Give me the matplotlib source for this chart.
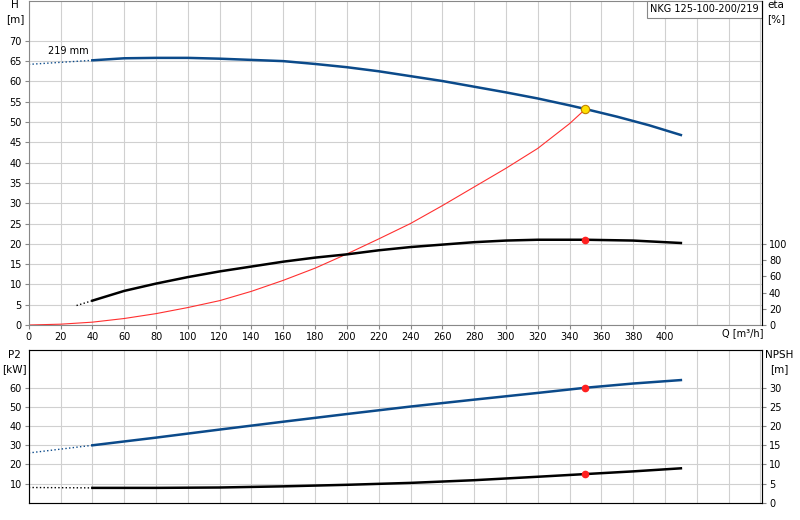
import matplotlib
matplotlib.use("Agg")
import matplotlib.pyplot as plt
import numpy as np

plt.rcParams['font.family'] = ['DejaVu Sans']
plt.rcParams['font.size'] = 7

# Data
h_q_dot = [0, 20, 40]
h_dot = [64.2, 64.7, 65.2]
h_q = [40, 60, 80, 100, 120, 140, 160, 180, 200, 220, 240, 260, 280, 300, 320, 340, 350, 370, 390, 410]
h_val = [65.2, 65.7, 65.8, 65.8, 65.6, 65.3, 65.0, 64.3, 63.5, 62.5, 61.3, 60.1, 58.7, 57.3, 55.8, 54.1, 53.2, 51.3, 49.2, 46.8]
sys_q = [0, 20, 40, 60, 80, 100, 120, 140, 160, 180, 200, 220, 240, 260, 280, 300, 320, 340, 350]
sys_h = [0, 0.2, 0.7, 1.6, 2.8, 4.3, 6.0, 8.3, 11.0, 14.0, 17.5, 21.2, 25.0, 29.4, 34.0, 38.6, 43.5, 49.6, 53.2]
eta_q_dot = [30, 40]
eta_dot = [24, 30]
eta_q = [40, 60, 80, 100, 120, 140, 160, 180, 200, 220, 240, 260, 280, 300, 320, 350, 380, 410]
eta_val = [30, 42, 51, 59, 66, 72, 78, 83, 87, 92, 96, 99, 102, 104, 105, 105, 104, 101]
p2_q_dot = [0, 20, 40]
p2_dot = [26, 28, 30]
p2_q = [40, 80, 120, 160, 200, 240, 280, 320, 350, 380, 410]
p2_val = [30, 34, 38.2, 42.3, 46.3, 50.2, 53.8, 57.3, 60, 62.2, 64]
npsh_q_dot = [0, 20, 40]
npsh_dot = [4.0, 3.95, 3.9]
npsh_q = [40, 80, 120, 160, 200, 240, 280, 320, 350, 380, 410]
npsh_val = [3.9, 3.9, 4.0, 4.3, 4.7, 5.2, 5.9, 6.8, 7.5, 8.2, 9.0]
dp_q = 350

blue = '#0b4a8a'
fig = plt.figure(figsize=(8, 5.2), dpi=100)
ax = fig.add_axes([0.036, 0.375, 0.9165, 0.623])
axb = fig.add_axes([0.036, 0.033, 0.9165, 0.294])

for a in (ax, axb):
    a.set_xlim(0, 461)
    a.grid(True, color='#d0d0d0', lw=0.8)
    a.set_axisbelow(True)
    for s in a.spines.values():
        s.set_color('#888888')
    a.tick_params(length=3, color='#888888', pad=2)

axb.set_xticks(np.arange(0, 461, 20))
ax.set_ylim(0, 79.8)
ax.set_yticks(np.arange(0, 71, 5))
ax.set_xticks(np.arange(0, 401, 20))
ax.set_xticks(np.arange(420, 461, 20), minor=True)
ax.grid(True, which='minor', axis='x', color='#d0d0d0', lw=0.8)
ax.tick_params(which='minor', length=0)

ax.plot(h_q_dot, h_dot, ls=':', color=blue, lw=1)
ax.plot(h_q, h_val, color=blue, lw=1.8)
ax.plot(sys_q, sys_h, color='#ff3030', lw=0.8)
ax.plot([dp_q], [np.interp(dp_q, h_q, h_val)], 'o', ms=6, mfc='#ffe000', mec='#c08000', mew=0.8, zorder=5)
ax.text(12, 66.8, '219 mm', fontsize=7)
fig.text(722/800, 1 - 333/520, 'Q [m³/h]', ha='left', va='center', fontsize=7)
ax.annotate('NKG 125-100-200/219', xy=(0.996, 0.99), xycoords='axes fraction', ha='right', va='top',
            fontsize=7, bbox=dict(boxstyle='square,pad=0.35', fc='white', ec='#888888', lw=0.8))

ax2 = ax.twinx()
ax2.set_ylim(0, 399)
ax2.set_yticks(np.arange(0, 101, 20))
ax2.tick_params(length=3, color='#888888', pad=2)
for s in ax2.spines.values():
    s.set_visible(False)
ax2.spines['right'].set_visible(True)
ax2.spines['right'].set_color('black')
ax2.plot(eta_q_dot, eta_dot, ls=':', color='black', lw=1)
ax2.plot(eta_q, eta_val, color='black', lw=1.8)
ax2.plot([dp_q], [np.interp(dp_q, eta_q, eta_val)], 'o', ms=4.5, color='#ff2020', zorder=5)

axb.set_ylim(0, 79.7)
axb.set_yticks(np.arange(10, 61, 10))
axb.set_xticklabels([])
axb.plot(p2_q_dot, p2_dot, ls=':', color=blue, lw=1)
axb.plot(p2_q, p2_val, color=blue, lw=1.8)
axb.plot([dp_q], [np.interp(dp_q, p2_q, p2_val)], 'o', ms=4.5, color='#ff2020', zorder=5)
axb.tick_params(axis='x', length=0)

axb2 = axb.twinx()
axb2.set_ylim(0, 39.85)
axb2.set_yticks(np.arange(0, 31, 5))
axb2.tick_params(length=3, color='#888888', pad=2)
axb2.spines['right'].set_color('black')
axb2.plot(npsh_q_dot, npsh_dot, ls=':', color='black', lw=1)
axb2.plot(npsh_q, npsh_val, color='black', lw=1.8)
axb2.plot([dp_q], [np.interp(dp_q, npsh_q, npsh_val)], 'o', ms=4.5, color='#ff2020', zorder=5)

fig.text(15/800, 1 - 12/520, 'H\n[m]', ha='center', va='center', fontsize=7.5, linespacing=1.4)
fig.text(776/800, 1 - 12/520, 'eta\n[%]', ha='center', va='center', fontsize=7.5, linespacing=1.4)
fig.text(14/800, 1 - 362/520, 'P2\n[kW]', ha='center', va='center', fontsize=7.5, linespacing=1.4)
fig.text(779/800, 1 - 362/520, 'NPSH\n[m]', ha='center', va='center', fontsize=7.5, linespacing=1.4)

fig.savefig('out.png', dpi=100)
